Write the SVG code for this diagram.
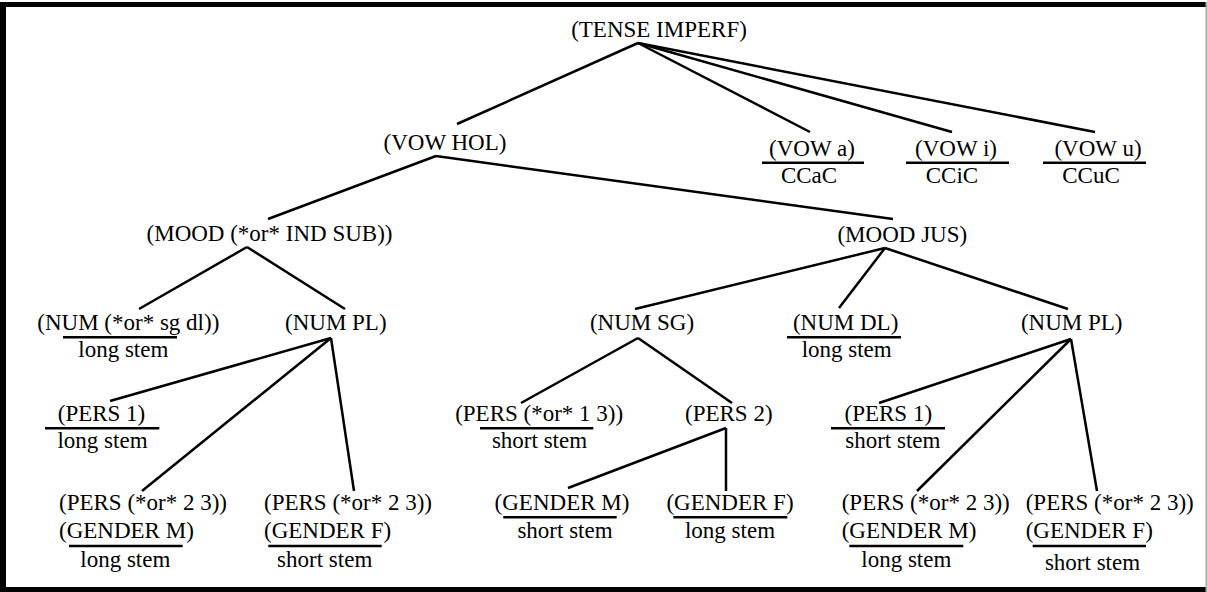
<svg xmlns="http://www.w3.org/2000/svg" width="1207" height="592" viewBox="0 0 1207 592">
<style>
text{font-family:"Liberation Serif","Times New Roman",serif;font-size:23px;fill:#000}
.m{text-anchor:middle}
.s{text-anchor:start}
.ul{stroke:#000;stroke-width:2.6}
#connectors line{stroke:#000;stroke-width:2.5;stroke-linecap:butt}
</style>
<rect x="0" y="0" width="1207" height="592" fill="#fff"/>
<g id="frame">
<rect x="0" y="2" width="1206" height="5" fill="#000"/>
<rect x="0" y="2" width="6" height="590" fill="#000"/>
<rect x="0" y="587" width="1206" height="5" fill="#000"/>
<rect x="1205.5" y="2" width="1.5" height="590" fill="#aaa"/>
</g>
<g id="connectors">
<line x1="638" y1="43" x2="457" y2="124"/>
<line x1="638" y1="43" x2="810" y2="132"/>
<line x1="638" y1="43" x2="952" y2="132"/>
<line x1="638" y1="43" x2="1095" y2="132"/>
<line x1="436" y1="156" x2="268" y2="219"/>
<line x1="436" y1="156" x2="893" y2="219"/>
<line x1="247" y1="247" x2="139" y2="309"/>
<line x1="247" y1="247" x2="345" y2="309"/>
<line x1="885" y1="248" x2="635" y2="309"/>
<line x1="885" y1="248" x2="839" y2="308"/>
<line x1="885" y1="248" x2="1068" y2="309"/>
<line x1="331" y1="338" x2="110" y2="401"/>
<line x1="331" y1="338" x2="142" y2="491"/>
<line x1="331" y1="338" x2="354" y2="491"/>
<line x1="638" y1="338" x2="521" y2="403"/>
<line x1="638" y1="338" x2="732" y2="403"/>
<line x1="1071" y1="339" x2="879" y2="403"/>
<line x1="1071" y1="339" x2="917" y2="491"/>
<line x1="1071" y1="339" x2="1097" y2="491"/>
<line x1="726" y1="428" x2="568" y2="488"/>
<line x1="726" y1="428" x2="726" y2="491"/>
</g>
<g id="n-tense-imperf"><text class="m" x="659" y="37">(TENSE IMPERF)</text></g>
<g id="n-vow-hol"><text class="m" x="445" y="150">(VOW HOL)</text></g>
<g id="n-vow-a"><text class="m" x="812" y="156">(VOW a)</text><line class="ul" x1="762" y1="162.7" x2="864" y2="162.7"/><text class="m" x="809" y="182.7">CCaC</text></g>
<g id="n-vow-i"><text class="m" x="956" y="156">(VOW i)</text><line class="ul" x1="906" y1="162.7" x2="1009" y2="162.7"/><text class="m" x="952" y="182.7">CCiC</text></g>
<g id="n-vow-u"><text class="m" x="1098" y="156">(VOW u)</text><line class="ul" x1="1043" y1="162.7" x2="1146" y2="162.7"/><text class="m" x="1091" y="182.7">CCuC</text></g>
<g id="n-mood-ind-sub"><text class="m" x="269.5" y="240.7">(MOOD (*or* IND SUB))</text></g>
<g id="n-mood-jus"><text class="m" x="902.3" y="241.7">(MOOD JUS)</text></g>
<g id="n-num-sg-dl"><text class="m" x="128.3" y="330">(NUM (*or* sg dl))</text><line class="ul" x1="63" y1="337.3" x2="177" y2="337.3"/><text class="m" x="123.3" y="357.3">long stem</text></g>
<g id="n-num-pl-1"><text class="m" x="335.8" y="330">(NUM PL)</text></g>
<g id="n-num-sg"><text class="m" x="642" y="330">(NUM SG)</text></g>
<g id="n-num-dl"><text class="m" x="845.6" y="330">(NUM DL)</text><line class="ul" x1="787" y1="337.3" x2="901" y2="337.3"/><text class="m" x="846.7" y="357.3">long stem</text></g>
<g id="n-num-pl-2"><text class="m" x="1071.7" y="330">(NUM PL)</text></g>
<g id="n-pers1-a"><text class="m" x="101.5" y="420.7">(PERS 1)</text><line class="ul" x1="45" y1="428.3" x2="159.3" y2="428.3"/><text class="m" x="102.5" y="447.7">long stem</text></g>
<g id="n-pers13"><text class="m" x="539.2" y="420.7">(PERS (*or* 1 3))</text><line class="ul" x1="480" y1="428.3" x2="593.3" y2="428.3"/><text class="m" x="539.5" y="447.7">short stem</text></g>
<g id="n-pers2"><text class="m" x="728.8" y="420.7">(PERS 2)</text></g>
<g id="n-pers1-b"><text class="m" x="888.3" y="420.7">(PERS 1)</text><line class="ul" x1="831" y1="428.3" x2="945" y2="428.3"/><text class="m" x="892.8" y="447.7">short stem</text></g>
<g id="n-pers23-m-a"><text class="s" x="59" y="510">(PERS (*or* 2 3))</text><text class="s" x="59" y="538.3">(GENDER M)</text><line class="ul" x1="69" y1="546" x2="182.7" y2="546"/><text class="m" x="125.3" y="566.7">long stem</text></g>
<g id="n-pers23-f-a"><text class="s" x="264" y="510">(PERS (*or* 2 3))</text><text class="s" x="264" y="538.3">(GENDER F)</text><line class="ul" x1="268.3" y1="546" x2="381.7" y2="546"/><text class="m" x="324.7" y="566.7">short stem</text></g>
<g id="n-gender-m"><text class="m" x="562" y="510">(GENDER M)</text><line class="ul" x1="503.3" y1="517.3" x2="616.7" y2="517.3"/><text class="m" x="565" y="538.3">short stem</text></g>
<g id="n-gender-f"><text class="m" x="730" y="510">(GENDER F)</text><line class="ul" x1="673.3" y1="517.3" x2="787.3" y2="517.3"/><text class="m" x="730" y="538.3">long stem</text></g>
<g id="n-pers23-m-b"><text class="s" x="841.7" y="510">(PERS (*or* 2 3))</text><text class="s" x="841.7" y="538.3">(GENDER M)</text><line class="ul" x1="849.3" y1="546" x2="963.3" y2="546"/><text class="m" x="906.3" y="567">long stem</text></g>
<g id="n-pers23-f-b"><text class="s" x="1025.7" y="510">(PERS (*or* 2 3))</text><text class="s" x="1025.7" y="538.3">(GENDER F)</text><line class="ul" x1="1032.7" y1="546" x2="1146" y2="546"/><text class="m" x="1092.5" y="569.5">short stem</text></g>
</svg>
